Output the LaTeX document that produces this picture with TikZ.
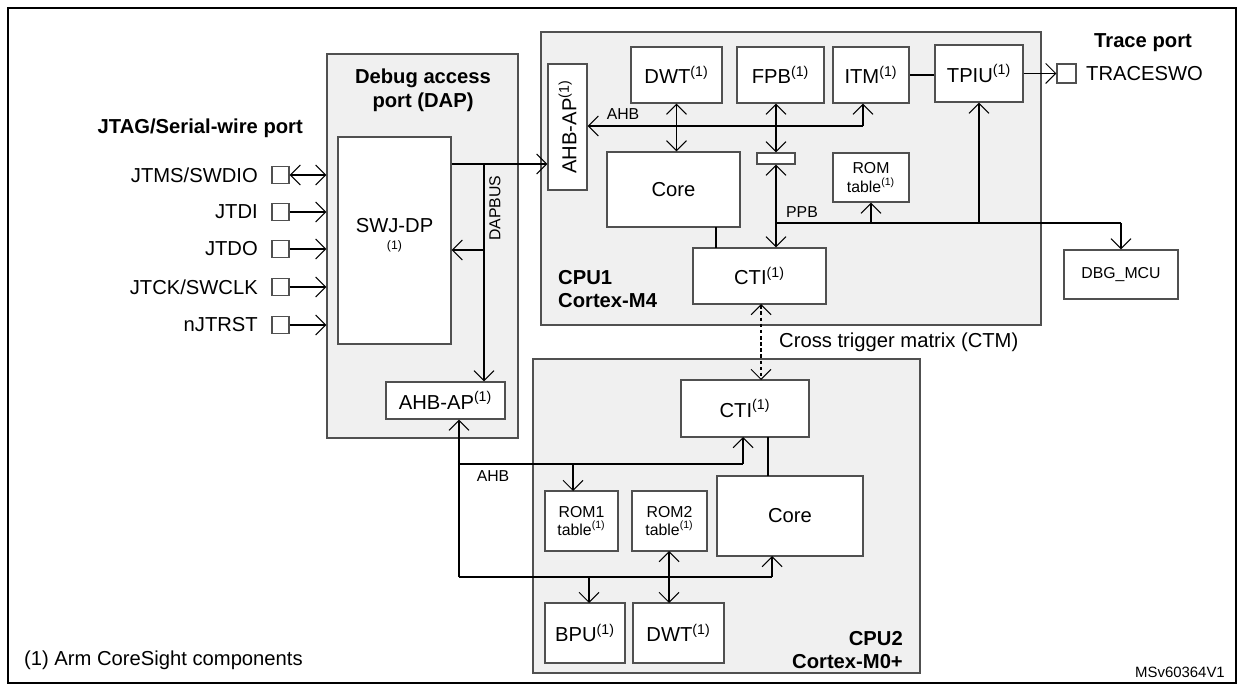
\documentclass[tikz,border=0pt]{standalone}
\usepackage{fontspec}
\setmainfont{Liberation Sans}
\usetikzlibrary{positioning, arrows.meta, calc}

\definecolor{panel}{HTML}{F0F0F0}
\definecolor{edge}{HTML}{505050}

\begin{document}
\begin{tikzpicture}[x=0.02cm, y=-0.02cm,
    txt/.style={font=\fontsize{11.5}{13.5}\selectfont},
    blk/.style={rectangle, draw=edge, fill=white, line width=0.7pt, inner sep=0pt, align=center, txt},
    panelbox/.style={rectangle, draw=edge, fill=panel, line width=0.7pt, inner sep=0pt},
    pin/.style={rectangle, draw=edge, fill=white, line width=0.6pt, minimum size=0.34cm, inner sep=0pt},
    small/.style={font=\fontsize{9}{10.5}\selectfont},
    title/.style={font=\fontsize{11.5}{13.5}\bfseries, align=center},
    arrow/.style={-{Straight Barb[length=2mm, width=4mm]}, line width=0.6pt},
    both/.style={{Straight Barb[length=2mm, width=4mm]}-{Straight Barb[length=2mm, width=4mm]}, line width=0.6pt},
    link/.style={line width=0.6pt}
]
    \useasboundingbox (0,0) rectangle (1240,686);
    \draw[line width=0.9pt] (8,8) rectangle (1236,683);

    % === Debug access port ===
    \node[panelbox, minimum width=3.82cm, minimum height=7.68cm] (dap) at (422.5,246) {};
    \node[title] at (423,90) {Debug access\\port (DAP)};
    \node[blk, minimum width=2.26cm, minimum height=4.14cm] (swj) at (394.5,240.5) {};
    \node[txt] at (394.5,226) {SWJ-DP};
    \node[font=\fontsize{7}{8}\selectfont] at (394.5,246) {(1)};
    \node[blk, minimum width=2.38cm, minimum height=0.74cm] (apdap) at (445.5,400.5) {AHB-AP\textsuperscript{(1)}};

    % === CPU1 ===
    \node[panelbox, minimum width=10cm, minimum height=5.86cm] (cpu1) at (791,178.5) {};
    \node[title, align=left, anchor=west] at (552,289) {CPU1\\Cortex-M4};
    \node[blk, minimum width=0.78cm, minimum height=2.52cm] (ap1) at (567.5,127) {};
    \node[rotate=90, txt] at (ap1) {AHB-AP\textsuperscript{(1)}};
    \node[blk, minimum width=1.82cm, minimum height=1.12cm] (dwt1) at (676.5,75) {DWT\textsuperscript{(1)}};
    \node[blk, minimum width=1.74cm, minimum height=1.12cm] (fpb) at (780.5,75) {FPB\textsuperscript{(1)}};
    \node[blk, minimum width=1.52cm, minimum height=1.12cm] (itm) at (871,75) {ITM\textsuperscript{(1)}};
    \node[blk, minimum width=1.76cm, minimum height=1.14cm] (tpiu) at (979,73.5) {TPIU\textsuperscript{(1)}};
    \node[blk, minimum width=2.66cm, minimum height=1.5cm] (core1) at (673.5,189.5) {Core};
    \node[blk, minimum width=0.76cm, minimum height=0.22cm] (mux) at (776,158.5) {};
    \node[blk, small, minimum width=1.52cm, minimum height=0.98cm] (rom) at (871,177.5) {ROM\\table\textsuperscript{(1)}};
    \node[blk, minimum width=2.66cm, minimum height=1.12cm] (cti1) at (759.5,276) {CTI\textsuperscript{(1)}};
    \node[blk, small, minimum width=2.28cm, minimum height=0.98cm] (dbg) at (1121,274.5) {DBG\_MCU};

    % Trace port
    \node[pin, minimum size=0.38cm] (swo) at (1066.5,73.5) {};
    \node[anchor=west, txt] at (1080,74) {TRACESWO};
    \node[title] at (1143,43) {Trace port};

    % === CPU2 ===
    \node[panelbox, minimum width=7.74cm, minimum height=6.28cm] (cpu2) at (726.5,516) {};
    \node[title, align=right, anchor=east] at (909,650) {CPU2\\Cortex-M0+};
    \node[blk, minimum width=2.56cm, minimum height=1.14cm] (cti2) at (745,408.5) {CTI\textsuperscript{(1)}};
    \node[blk, minimum width=2.92cm, minimum height=1.6cm] (core2) at (790,516) {Core};
    \node[blk, small, minimum width=1.46cm, minimum height=1.2cm] (rom1) at (581.5,521) {ROM1\\table\textsuperscript{(1)}};
    \node[blk, small, minimum width=1.5cm, minimum height=1.2cm] (rom2) at (669.5,521) {ROM2\\table\textsuperscript{(1)}};
    \node[blk, minimum width=1.6cm, minimum height=1.2cm] (bpu) at (585,633) {BPU\textsuperscript{(1)}};
    \node[blk, minimum width=1.82cm, minimum height=1.2cm] (dwt2) at (678.5,633) {DWT\textsuperscript{(1)}};

    % === JTAG pins ===
    \node[title, anchor=east] at (309,128) {JTAG/Serial-wire port};
    \foreach \y/\name/\lbl in {175/tms/JTMS\slash SWDIO, 212/tdi/JTDI, 249/tdo/JTDO, 287/tck/JTCK\slash SWCLK, 325/rst/nJTRST} {
        \node[pin] (\name) at (280.5,\y) {};
        \node[anchor=east, txt] at (264,\y) {\lbl};
    }
    \draw[both] (tms.east) -- (tms.east -| dap.west);
    \foreach \name in {tdi, tdo, tck, rst}
        \draw[arrow] (\name.east) -- (\name.east -| dap.west);

    % DAP bus
    \coordinate (bus1) at (484,164);
    \draw[arrow] (swj.east |- bus1) -- (ap1.west |- bus1);
    \draw[arrow] (bus1) -- (bus1 |- apdap.north);
    \draw[arrow] (bus1 |- 0,250) -- (swj.east |- 0,250);
    \node[rotate=90, small] at (495,208) {DAPBUS};

    % CPU1 buses
    \coordinate (ahb1) at (863,126);
    \draw[arrow] (ahb1) -- (ap1.east |- ahb1);
    \draw[arrow] (ahb1) -- (ahb1 |- itm.south);
    \node[small] at (623,114) {AHB};
    \draw[both] (dwt1.south) -- (dwt1.south |- core1.north);
    \draw[both] (fpb.south -| mux) -- (mux.north);
    \draw[both] (mux.south) -- (mux.south |- cti1.north);
    \draw[link] (tpiu.west |- itm.east) -- (itm.east);
    \draw[arrow] (tpiu.east) -- (swo.west);
    \draw[link] (716,227) -- (716,248);
    \coordinate (ppb) at (776,223);
    \node[small] at (802,212) {PPB};
    \draw[link] (ppb) -- (dbg.north |- ppb);
    \draw[arrow] (dbg.north |- ppb) -- (dbg.north);
    \draw[arrow] (rom.south |- ppb) -- (rom.south);
    \draw[arrow] (tpiu.south |- ppb) -- (tpiu.south);

    % Cross trigger matrix
    \draw[both, dash pattern=on 2pt off 1.5pt] (761,304) -- (761,380);
    \node[anchor=west, txt] at (773,342) {Cross trigger matrix (CTM)};

    % CPU2 buses
    \coordinate (ahb2) at (459,464);
    \coordinate (ahb3) at (459,577);
    \draw[arrow] (ahb3) -- (ahb2 |- apdap.south);
    \draw[link] (ahb2) -- (743,464);
    \draw[arrow] (743,464) -- (743,437);
    \draw[arrow] (573,464) -- (573,491);
    \node[small] at (493,476) {AHB};
    \draw[link] (ahb3) -- (772,577);
    \draw[arrow] (772,577) -- (772,556);
    \draw[arrow] (589,577) -- (589,603);
    \draw[link] (768,437) -- (768,476);
    \draw[both] (669,551) -- (669,603);

    % Notes
    \node[anchor=west, txt] at (18,660) {(1) Arm CoreSight components};
    \node[anchor=east, font=\fontsize{8.5}{10}\selectfont] at (1231,672) {MSv60364V1};
\end{tikzpicture}
\end{document}
